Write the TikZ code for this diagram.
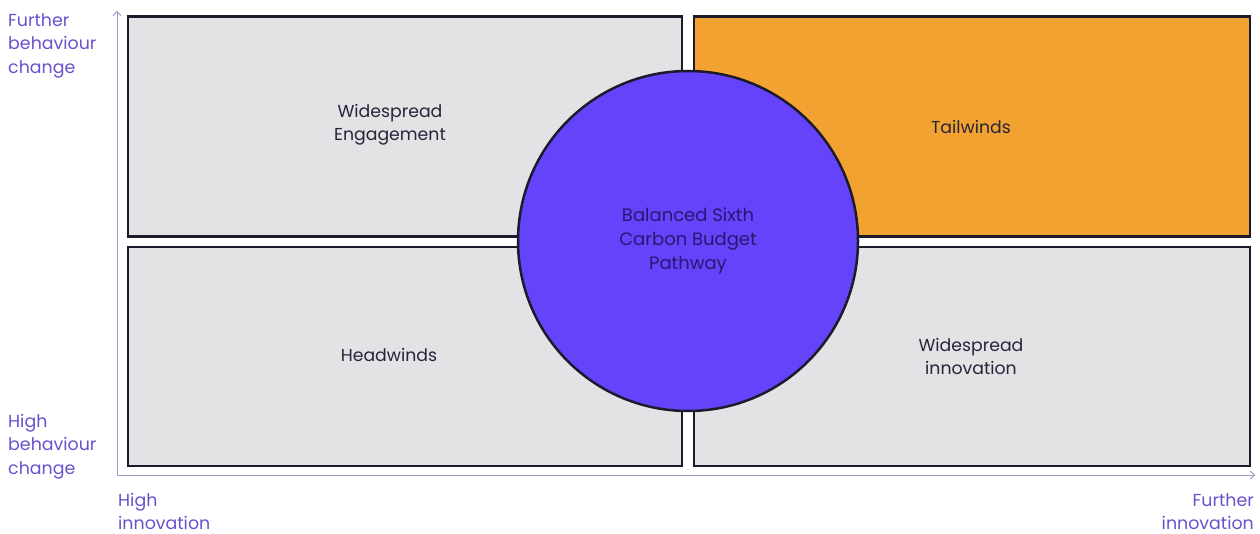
\documentclass[tikz,border=0pt]{standalone}
\usepackage{fontspec}
\setmainfont{Poppins}
\usepackage{tikz}
\usetikzlibrary{arrows.meta}
\definecolor{boxgray}{HTML}{E3E2E5}
\definecolor{tailorange}{HTML}{F2A231}
\definecolor{pathblue}{HTML}{6543FA}
\definecolor{axispurple}{HTML}{6B50CC}
\definecolor{axisline}{HTML}{A29CCB}
\definecolor{edgedark}{HTML}{1C1B2B}
\definecolor{textdark}{HTML}{26253A}
\definecolor{pathtext}{HTML}{261870}
\tikzset{
  quad/.style={draw=edgedark, line width=2.5pt, fill=boxgray, inner sep=0pt,
    minimum width=554pt, minimum height=220pt},
  quadtext/.style={text=textdark, align=center, font=\fontsize{17.3}{23}\selectfont},
  axis/.style={draw=axisline, line width=1pt, -{Straight Barb[length=4pt,width=8pt]}},
  axislabel/.style={text=axispurple, inner sep=0pt, font=\fontsize{17.4}{23.5}\selectfont}
}

\begin{document}
\begin{tikzpicture}[x=1pt,y=-1pt]
\useasboundingbox (0,0) rectangle (1260,534);
% axes
\coordinate (origin) at (117,475);
\coordinate (ytop) at (117,11);
\coordinate (xend) at (1255,475);
\draw[axis] (origin) -- (ytop);
\draw[axis] (origin) -- (xend);
% quadrants
\node[quad] (engage) at (405,126.5) {};
\node[quad, fill=tailorange, minimum width=556pt] (tail) at (972,126.5) {};
\node[quad, minimum height=219pt] (head) at (405,356.5) {};
\node[quad, minimum width=556pt, minimum height=219pt] (innov) at (972,356.5) {};
\node[quadtext] (engagetext) at (390,125) {Widespread\\Engagement};
\node[quadtext] (tailtext) at (971,127) {Tailwinds};
\node[quadtext] (headtext) at (389,355) {Headwinds};
\node[quadtext] (innovtext) at (971,356) {Widespread\\innovation};
% balanced pathway
\node[circle, draw=edgedark, line width=2.5pt, fill=pathblue, minimum size=340pt,
  text=pathtext, align=center, font=\fontsize{18}{24}\selectfont] (balanced) at (688,241)
  {Balanced Sixth\\Carbon Budget\\Pathway};
% axis labels
\node[axislabel, anchor=north west, align=left] (ytoplabel) at (8,13) {Further\\behaviour\\change};
\node[axislabel, anchor=north west, align=left] (ybotlabel) at (8,414) {High\\behaviour\\change};
\node[axislabel, anchor=north west, align=left] (xleftlabel) at (118,493) {High\\innovation};
\node[axislabel, anchor=north east, align=right] (xrightlabel) at (1254,493) {Further\\innovation};
\end{tikzpicture}
\end{document}
